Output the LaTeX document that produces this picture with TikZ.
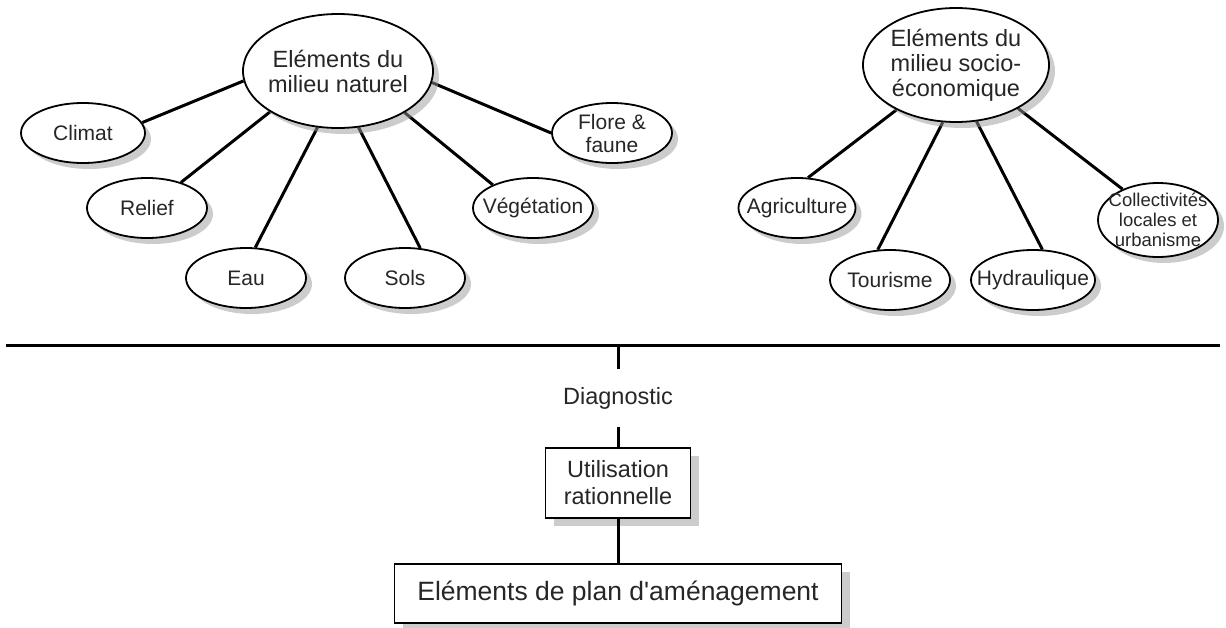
\documentclass[tikz,border=0pt]{standalone}
\usepackage{fontspec}
\setmainfont{Liberation Sans}[Ligatures=TeXOff]
\usetikzlibrary{shapes.geometric,shadows,backgrounds}
\begin{document}
\begin{tikzpicture}[x=1pt,y=-1pt,
  ell/.style={ellipse, draw, line width=1.8pt, fill=white, inner sep=0pt,
    drop shadow={shadow xshift=6pt, shadow yshift=-6pt, fill=black!40}},
  small/.style={ell, minimum width=120pt, minimum height=60pt},
  big/.style={ell, minimum width=190pt, minimum height=114pt},
  txt/.style={inner sep=0pt, align=center, text=black!85},
  stxt/.style={txt, font=\fontsize{21}{23}\selectfont},
  btxt/.style={txt, font=\fontsize{23.5}{25}\selectfont},
  conn/.style={line width=3pt},
  boxnode/.style={draw, line width=1.8pt, fill=white, inner sep=0pt, align=center, text=black!85,
    drop shadow={shadow xshift=8pt, shadow yshift=-8pt, fill=black!40}}
]
\useasboundingbox (0,0) rectangle (1226,627);

% left group
\node[big] (nat) at (338,71) {};
\node[btxt] (nat-t) at (nat) {Eléments du\\milieu naturel};
\node[small, minimum width=124pt] (climat) at (83,133) {};
\node[stxt] (climat-t) at (climat) {Climat};
\node[small] (relief) at (147,208) {};
\node[stxt] (relief-t) at (relief) {Relief};
\node[small] (eau) at (246,278) {};
\node[stxt] (eau-t) at (eau) {Eau};
\node[small] (sols) at (405,278) {};
\node[stxt] (sols-t) at (sols) {Sols};
\node[small] (veg) at (533,208) {};
\node[stxt] (veg-t) at (veg) {Végétation};
\node[small] (flore) at (612,133) {};
\node[stxt] (flore-t) at (flore) {Flore \&\\faune};

% right group
\node[big, minimum width=186pt] (soc) at (956,65) {};
\node[btxt] (soc-t) at (soc) {Eléments du\\milieu socio-\\économique};
\node[small, minimum width=117pt] (agri) at (797,208) {};
\node[stxt] (agri-t) at (agri) {Agriculture};
\node[small] (tour) at (890,280) {};
\node[stxt] (tour-t) at (tour) {Tourisme};
\node[small, minimum width=124pt] (hyd) at (1033,280) {};
\node[stxt] (hyd-t) at (hyd) {Hydraulique};
\node[small, minimum width=120pt, minimum height=74pt] (coll) at (1158,220) {};
\node[txt, font=\fontsize{18.5}{20}\selectfont] (coll-t) at (coll) {Collectivités\\locales et\\urbanisme};

\begin{scope}[on background layer]
\draw[conn] (climat.10) -- (nat.186);
\draw[conn] (relief.37) -- (nat.211);
\draw[conn] (eau.73) -- (nat.250);
\draw[conn] (sols.63) -- (nat.290);
\draw[conn] (veg.150) -- (nat.328);
\draw[conn] (flore.180) -- (nat.353);
\draw[conn] (agri.70) -- (soc.217);
\draw[conn] (tour.112) -- (soc.257);
\draw[conn] (hyd.73) -- (soc.290);
\draw[conn] (coll.139) -- (soc.325);
\end{scope}

% bottom part
\coordinate (hl) at (6,345);
\coordinate (hr) at (1220,345);
\coordinate (hm) at (618,345);
\draw[line width=3pt] (hl) -- (hr);
\node[txt, font=\fontsize{23.5}{27}\selectfont, minimum height=57pt] (diag) at (618,398) {Diagnostic};
\node[boxnode, minimum width=145pt, minimum height=70pt, font=\fontsize{23.5}{27}\selectfont] (util) at (618,483) {Utilisation\\rationnelle};
\node[boxnode, minimum width=447pt, minimum height=59pt, font=\fontsize{26.5}{30}\selectfont] (plan) at (618,593.5) {Eléments de plan d'aménagement};
\draw[conn] (hm) -- (diag);
\draw[conn] (diag) -- (util);
\draw[conn] (util) -- (plan);
\end{tikzpicture}
\end{document}
